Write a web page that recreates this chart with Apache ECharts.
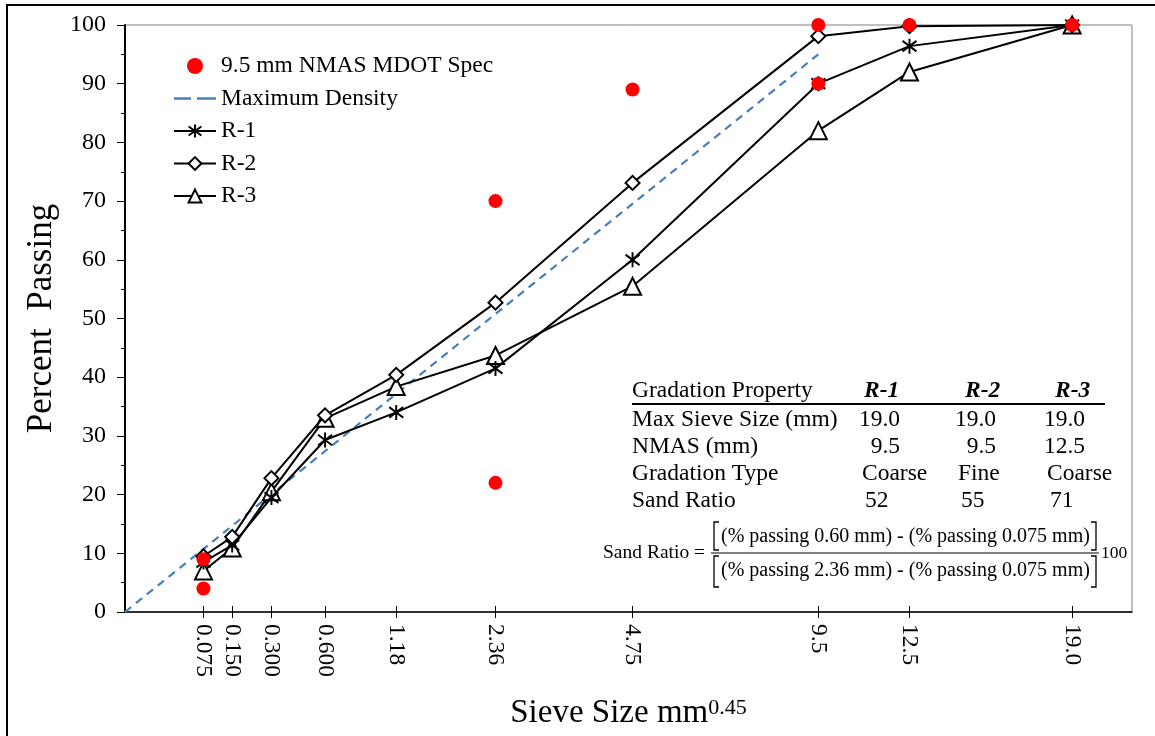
<!DOCTYPE html>
<html>
<head>
<meta charset="utf-8">
<script src="https://cdn.jsdelivr.net/npm/echarts@6/dist/echarts.min.js"></script>
<style>
html,body{margin:0;padding:0;background:#fff;}
#chart{width:1155px;height:736px;}
</style>
</head>
<body>
<div id="chart"></div>
<script>
// ---- data ----
const sieveLabels = ['0.075', '0.150', '0.300', '0.600', '1.18', '2.36', '4.75', '9.5', '12.5', '19.0'];
const sieveSizes  = [0.075, 0.15, 0.3, 0.6, 1.18, 2.36, 4.75, 9.5, 12.5, 19.0];
const r1Values = [8.5, 11.4, 19.5, 29.3, 34.0, 41.5, 60.0, 90.0, 96.4, 100];
const r2Values = [9.5, 12.8, 22.8, 33.5, 40.4, 52.7, 73.1, 98.1, 99.8, 100];
const r3Values = [7.0, 10.9, 20.5, 33.0, 38.4, 43.7, 55.5, 82.0, 92.0, 100];
const specSizes  = [0.075, 0.075, 2.36, 2.36, 4.75, 9.5, 9.5, 12.5, 19.0];
const specValues = [9, 4, 70, 22, 89, 100, 90, 100, 100];
const maxDensitySizes  = [0, 9.5];
const maxDensityValues = [0, 95];
const yTicks = [0, 100, 10];
const seriesNames = ['9.5 mm NMAS MDOT Spec', 'Maximum Density', 'R-1', 'R-2', 'R-3'];

const tableHeader = ['Gradation Property', 'R-1', 'R-2', 'R-3'];
const tableProps  = ['Max Sieve Size (mm)', 'NMAS (mm)', 'Gradation Type', 'Sand Ratio'];
const tableR1 = ['19.0', '9.5', 'Coarse', '52'];
const tableR2 = ['19.0', '9.5', 'Fine', '55'];
const tableR3 = ['19.0', '12.5', 'Coarse', '71'];
const formulaLeft = 'Sand Ratio =';
const formulaNum = '(% passing 0.60 mm) - (% passing 0.075 mm)';
const formulaDen = '(% passing 2.36 mm) - (% passing 0.075 mm)';
const formulaRight = '100';

// ---- scale: sieve size raised to 0.45 power ----
const POW = 0.45;
const tx = s => Math.pow(s, POW);
const xTicks = sieveSizes.map(tx);
const pairs = (xs, ys) => xs.map((s, i) => [tx(s), ys[i]]);

const FONT = '"Liberation Serif", "Times New Roman", serif';
const asterisk = 'path://M0,-10L0,10M-9,-7L9,7M-9,7L9,-7';
const dashIcon = 'path://M0,0h17v2.6h-17zM23,0h19v2.6h-19z';

const chart = echarts.init(document.getElementById('chart'), null, {renderer: 'canvas'});

// table graphics
const g = [];
g.push({type: 'rect', shape: {x: 7, y: 5, width: 1170, height: 800}, style: {fill: 'none', stroke: '#000', lineWidth: 2}, silent: true});
const colX = [862, 958, 1047];
const rowY = [420, 447, 474, 501];
const txt = (text, x, y, size, align) => ({
  type: 'text', x: x, y: y, silent: true,
  style: {text: text, font: size + 'px ' + FONT, fill: '#000', align: align || 'left', verticalAlign: 'middle'}
});
g.push(txt(tableHeader[0], 632, 391, 23.5));
[tableHeader[1], tableHeader[2], tableHeader[3]].forEach((h, i) => {
  const t = txt(h, [864, 965, 1055][i], 391, 23.5);
  t.style.font = 'italic bold 23.5px ' + FONT;
  g.push(t);
});
g.push({type: 'line', shape: {x1: 632, y1: 404, x2: 1105, y2: 404}, style: {stroke: '#000', lineWidth: 2}, silent: true});
tableProps.forEach((p, r) => {
  g.push(txt(p, 632, rowY[r], 23.5));
  [tableR1, tableR2, tableR3].forEach((col, c) => {
    if (r < 2) g.push(txt(col[r], colX[c] + 38, rowY[r], 23.5, 'right'));
    else g.push(txt(col[r], colX[c] + (r === 3 ? 3 : 0), rowY[r], 23.5));
  });
});
// formula
g.push(txt(formulaLeft, 705, 553, 19.5, 'right'));
g.push(txt(formulaNum, 721, 537, 20));
g.push(txt(formulaDen, 721, 571, 20));
g.push(txt(formulaRight, 1101, 553, 17.5));
g.push({type: 'line', shape: {x1: 711, y1: 553, x2: 1099, y2: 553}, style: {stroke: '#000', lineWidth: 1}, silent: true});
const bracket = (x, y1, y2, dir) => ({type: 'polyline', silent: true,
  shape: {points: [[x + 5 * dir, y1], [x, y1], [x, y2], [x + 5 * dir, y2]]},
  style: {stroke: '#000', lineWidth: 1.3, fill: 'none'}});
g.push(bracket(714, 522, 550, 1));
g.push(bracket(1096, 522, 550, -1));
g.push(bracket(714, 556, 587, 1));
g.push(bracket(1096, 556, 587, -1));

const lineSeries = (name, vals, symbol, size, z) => ({
  name: name, type: 'line', data: pairs(sieveSizes, vals),
  symbol: symbol, symbolSize: size, showSymbol: true,
  lineStyle: {color: '#000', width: 2},
  itemStyle: {color: symbol === asterisk ? '#000' : '#fff', borderColor: '#000', borderWidth: 2},
  z: z, emphasis: {disabled: true}
});

chart.setOption({
  animation: false,
  backgroundColor: '#fff',
  textStyle: {fontFamily: FONT, color: '#000'},
  grid: {left: 125, top: 25, right: 23, bottom: 124, show: true, borderColor: '#808080', borderWidth: 1, containLabel: false},
  legend: {
    orient: 'vertical', left: 168, top: 49,
    itemWidth: 42, itemHeight: 16, itemGap: 8.5,
    textStyle: {fontFamily: FONT, fontSize: 23.5, color: '#000', lineHeight: 24},
    data: [
      {name: seriesNames[0], icon: 'circle', itemStyle: {color: '#ff0000', opacity: 1}},
      {name: seriesNames[1], icon: dashIcon, itemStyle: {color: '#4a7ebb'}},
      {name: seriesNames[2]},
      {name: seriesNames[3]},
      {name: seriesNames[4]}
    ],
    selectedMode: false
  },
  xAxis: [{
    type: 'value', min: 0, max: 4, position: 'bottom',
    name: '{a|Sieve Size mm}{b|0.45}', nameLocation: 'middle', nameGap: 83,
    nameTextStyle: {rich: {
      a: {fontFamily: FONT, fontSize: 33, lineHeight: 36, color: '#000'},
      b: {fontFamily: FONT, fontSize: 22, lineHeight: 22, verticalAlign: 'top', color: '#000', padding: [2, 0, 0, 0]}
    }},
    axisLine: {show: true, lineStyle: {color: '#000', width: 1.5}},
    axisTick: {show: true, customValues: xTicks, length: 6, lineStyle: {color: '#000', width: 1}},
    axisLabel: {customValues: xTicks, rotate: -90, margin: 12, fontFamily: FONT, fontSize: 23.5, color: '#000',
      formatter: v => { const i = xTicks.findIndex(x => Math.abs(x - v) < 1e-6); return i >= 0 ? sieveLabels[i] : ''; }},
    splitLine: {show: false}
  }, {
    type: 'value', min: 0, max: 4, position: 'bottom', offset: 0,
    axisLine: {show: false},
    axisTick: {show: true, inside: true, customValues: xTicks, length: 6, lineStyle: {color: '#000', width: 1}},
    axisLabel: {show: false},
    splitLine: {show: false}
  }],
  yAxis: {
    type: 'value', min: yTicks[0], max: yTicks[1], interval: yTicks[2],
    name: 'Percent  Passing', nameLocation: 'middle', nameGap: 62, nameRotate: 90,
    nameTextStyle: {fontFamily: FONT, fontSize: 35, color: '#000'},
    axisLine: {show: true, lineStyle: {color: '#000', width: 2}},
    axisTick: {show: true, length: 8, lineStyle: {color: '#000', width: 1}},
    minorTick: {show: true, splitNumber: 2, length: 4, lineStyle: {color: '#000', width: 1}},
    axisLabel: {margin: 19, fontFamily: FONT, fontSize: 24, color: '#000'},
    splitLine: {show: false}
  },
  series: [
    {name: seriesNames[0], type: 'scatter', data: pairs(specSizes, specValues), symbol: 'circle', symbolSize: 14,
      itemStyle: {color: '#ff0000', opacity: 1}, z: 10, emphasis: {disabled: true}},
    {name: seriesNames[1], type: 'line', data: pairs(maxDensitySizes, maxDensityValues), symbol: 'none',
      lineStyle: {color: '#4a7ebb', width: 2.2, type: [8, 6]}, itemStyle: {color: '#4a7ebb'}, z: 1, emphasis: {disabled: true}},
    lineSeries(seriesNames[2], r1Values, asterisk, [14, 15], 3),
    lineSeries(seriesNames[3], r2Values, 'diamond', 14, 4),
    lineSeries(seriesNames[4], r3Values, 'triangle', 17, 2)
  ],
  graphic: g
});
</script>
</body>
</html>
